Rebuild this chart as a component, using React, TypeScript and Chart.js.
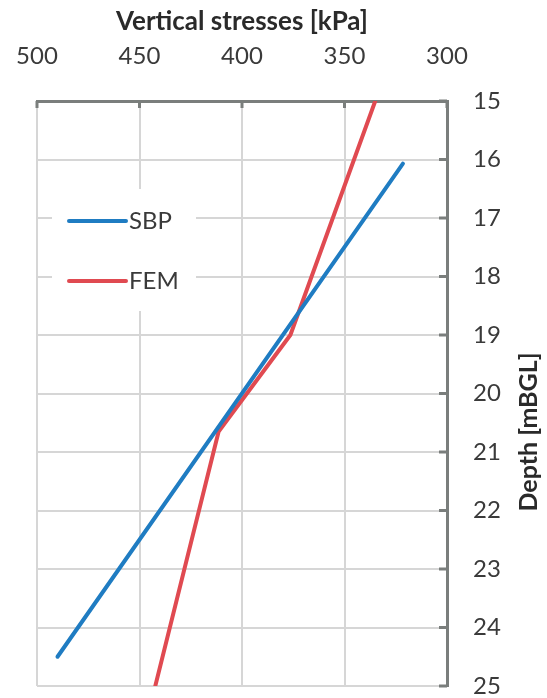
import React, { useEffect, useRef } from 'react';
import { Chart, registerables } from 'chart.js';

Chart.register(...registerables);

const xTitle = 'Vertical stresses [kPa]';
const yTitle = 'Depth [mBGL]';
const seriesNames = ['SBP', 'FEM'];
const seriesColors = ['#1f7cc2', '#e04a51'];
const sbpStress = [321.5, 490];
const sbpDepth = [16.07, 24.5];
const femStress = [335, 376.4, 411.4, 442.3];
const femDepth = [15, 19, 20.65, 25];
const stressRange = [300, 500];
const stressStep = 50;
const depthRange = [15, 25];
const depthStep = 1;

const FONT = 'Lato, "Open Sans", sans-serif';
const TEXT = '#3a3a3a';
const AXIS_DARK = '#7a7e7c';
const GRID = '#d6d6d6';

const decor = {
  id: 'decor',
  beforeDatasetsDraw(chart: any) {
    const { ctx, chartArea } = chart;
    const a = chartArea;
    ctx.save();
    ctx.fillStyle = '#ffffff';
    ctx.fillRect(a.left + 15, a.top + 88, 144, 122);
    ctx.restore();
  },
  afterDatasetsDraw(chart: any) {
    const { ctx, chartArea } = chart;
    const a = chartArea;
    ctx.save();
    chart.data.datasets.forEach((ds: any, i: number) => {
      const y = a.top + 120 + i * 60;
      ctx.strokeStyle = ds.borderColor;
      ctx.lineWidth = 4;
      ctx.lineCap = 'round';
      ctx.beginPath();
      ctx.moveTo(a.left + 32, y);
      ctx.lineTo(a.left + 89, y);
      ctx.stroke();
      ctx.fillStyle = TEXT;
      ctx.font = `24px ${FONT}`;
      ctx.textAlign = 'left';
      ctx.textBaseline = 'middle';
      ctx.fillText(ds.label, a.left + 92, y);
    });
    const xs = chart.scales.x;
    const ys = chart.scales.y;
    ctx.strokeStyle = AXIS_DARK;
    ctx.lineWidth = 3;
    ctx.lineCap = 'butt';
    xs.ticks.forEach((t: any) => {
      const px = xs.getPixelForValue(t.value);
      ctx.beginPath();
      ctx.moveTo(px, a.top);
      ctx.lineTo(px, a.top + 7);
      ctx.stroke();
    });
    ys.ticks.forEach((t: any) => {
      const py = ys.getPixelForValue(t.value);
      ctx.beginPath();
      ctx.moveTo(a.right - 8, py);
      ctx.lineTo(a.right, py);
      ctx.stroke();
    });
    ctx.restore();
  },
  afterDraw(chart: any) {
    const { ctx, chartArea } = chart;
    const a = chartArea;
    ctx.save();
    ctx.fillStyle = '#2a2a2a';
    ctx.textAlign = 'center';
    ctx.textBaseline = 'middle';
    ctx.font = `bold 26px ${FONT}`;
    ctx.fillText(xTitle, (a.left + a.right) / 2, 22);
    ctx.font = `bold 25px ${FONT}`;
    ctx.translate(a.right + 82, 432);
    ctx.rotate(-Math.PI / 2);
    ctx.fillText(yTitle, 0, 0);
    ctx.restore();
  },
};

export default function App() {
  const ref = useRef<HTMLCanvasElement | null>(null);
  useEffect(() => {
    document.body.style.margin = '0';
    const canvas = ref.current;
    if (!canvas) return;
    const chart = new Chart(canvas, {
      type: 'scatter',
      data: {
        datasets: [
          {
            label: seriesNames[0],
            data: sbpStress.map((x, i) => ({ x, y: sbpDepth[i] })),
            borderColor: seriesColors[0],
            backgroundColor: seriesColors[0],
            showLine: true,
            borderWidth: 4,
            pointRadius: 0,
            borderCapStyle: 'round',
            borderJoinStyle: 'round',
          },
          {
            label: seriesNames[1],
            data: femStress.map((x, i) => ({ x, y: femDepth[i] })),
            borderColor: seriesColors[1],
            backgroundColor: seriesColors[1],
            showLine: true,
            borderWidth: 4,
            pointRadius: 0,
            borderCapStyle: 'round',
            borderJoinStyle: 'round',
          },
        ],
      },
      options: {
        animation: false,
        responsive: true,
        maintainAspectRatio: false,
        layout: { padding: { left: 37, right: 0, top: 0, bottom: 12 } },
        plugins: { legend: { display: false }, tooltip: { enabled: false } },
        scales: {
          x: {
            type: 'linear',
            position: 'top',
            reverse: true,
            min: stressRange[0],
            max: stressRange[1],
            afterFit: (s: any) => {
              s.height = 101;
              s.paddingLeft = 0;
              s.paddingRight = 0;
            },
            ticks: {
              stepSize: stressStep,
              padding: 30,
              color: TEXT,
              font: { family: FONT, size: 24 },
              maxRotation: 0,
            },
            grid: { color: GRID, lineWidth: 2, drawTicks: false },
            border: { display: true, color: AXIS_DARK, width: 3 },
          },
          y: {
            type: 'linear',
            position: 'right',
            reverse: true,
            min: depthRange[0],
            max: depthRange[1],
            afterFit: (s: any) => {
              s.width = 100;
              s.paddingTop = 0;
              s.paddingBottom = 0;
            },
            ticks: {
              stepSize: depthStep,
              padding: 26,
              color: TEXT,
              font: { family: FONT, size: 24 },
            },
            grid: { color: GRID, lineWidth: 2, drawTicks: false },
            border: { display: true, color: AXIS_DARK, width: 3 },
          },
        },
      },
      plugins: [decor],
    });
    return () => chart.destroy();
  }, []);
  return (
    <div style={{ width: 547, height: 698, position: 'relative' }}>
      <canvas ref={ref} />
    </div>
  );
}
